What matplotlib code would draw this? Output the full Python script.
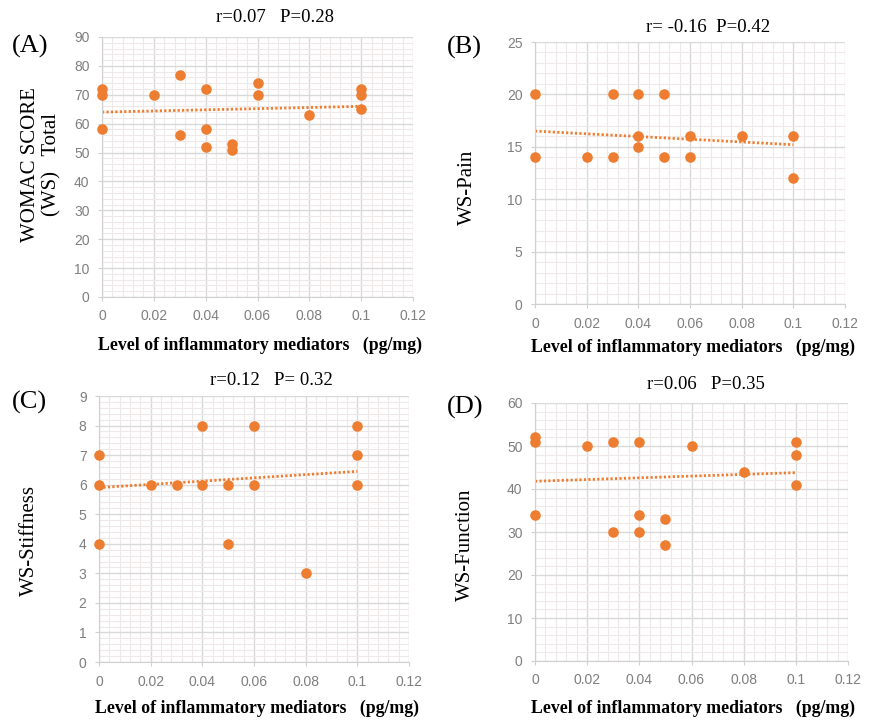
import numpy as np
import matplotlib.pyplot as plt
from matplotlib.ticker import MultipleLocator, AutoMinorLocator, FormatStrFormatter

# panel A - WOMAC total
xa = [0, 0, 0, 0.02, 0.03, 0.03, 0.04, 0.04, 0.04, 0.05, 0.05, 0.06, 0.06, 0.08, 0.1, 0.1, 0.1]
ya = [72, 70, 58, 70, 77, 56, 72, 58, 52, 53, 51, 74, 70, 63, 72, 70, 65]

# panel B - pain
xb = [0, 0, 0.02, 0.03, 0.03, 0.04, 0.04, 0.04, 0.05, 0.05, 0.06, 0.06, 0.08, 0.1, 0.1]
yb = [20, 14, 14, 20, 14, 20, 16, 15, 20, 14, 16, 14, 16, 16, 12]

# panel C - stiffness
xc = [0, 0, 0, 0.02, 0.03, 0.04, 0.04, 0.05, 0.05, 0.06, 0.06, 0.08, 0.1, 0.1, 0.1]
yc = [7, 6, 4, 6, 6, 8, 6, 6, 4, 8, 6, 3, 8, 7, 6]

# panel D - function
xd = [0, 0, 0, 0.02, 0.03, 0.03, 0.04, 0.04, 0.04, 0.05, 0.05, 0.06, 0.08, 0.1, 0.1, 0.1]
yd = [52, 51, 34, 50, 51, 30, 51, 34, 30, 33, 27, 50, 44, 51, 48, 41]

# trend lines (value at x=0 and x=0.1)
trend_x = [0, 0.1]
trend_a = [64, 66]
trend_b = [16.5, 15.2]
trend_c = [5.9, 6.45]
trend_d = [41.8, 43.8]

stats = ["r=0.07   P=0.28", "r= -0.16  P=0.42", "r=0.12   P= 0.32", "r=0.06   P=0.35"]
letters = ["(A)", "(B)", "(C)", "(D)"]
ylabels = ["WOMAC SCORE\n(WS)   Total", "WS-Pain", "WS-Stiffness", "WS-Function"]
ymax = [90, 25, 9, 60]
ystep = [10, 5, 1, 10]
xlabel = "Level of inflammatory mediators   (pg/mg)"

W, H = 869, 725
ORANGE = "#ED7D31"
SERIF = "Liberation Serif"

fig = plt.figure(figsize=(W / 100, H / 100), dpi=100)


def px_axes(l, r, t, b):
    return fig.add_axes([l / W, 1 - b / H, (r - l) / W, (b - t) / H])


# pixel boxes of each plot area (left, right, top, bottom)
boxes = [(102, 413, 37, 297), (535, 845, 42, 304), (99, 409, 396, 662), (535, 848, 403, 661)]
# text positions in pixels
stat_pos = [(275, 18), (708, 27), (271, 380), (706, 385)]
letter_pos = [(30, 46), (464, 47), (29, 402), (465, 407)]
ylab_pos = [(41, 165), (467, 187), (29, 540), (465, 545)]
xlab_pos = [(260, 345), (693, 347), (257, 708), (693, 708)]

data = [(xa, ya), (xb, yb), (xc, yc), (xd, yd)]
trends = [trend_a, trend_b, trend_c, trend_d]

for i, (x, y) in enumerate(data):
    ax = px_axes(*boxes[i])
    ax.set_xlim(0, 0.12)
    ax.set_ylim(0, ymax[i])
    ax.xaxis.set_major_locator(MultipleLocator(0.02))
    ax.yaxis.set_major_locator(MultipleLocator(ystep[i]))
    ax.xaxis.set_minor_locator(AutoMinorLocator(5))
    ax.yaxis.set_minor_locator(AutoMinorLocator(5))
    ax.xaxis.set_major_formatter(FormatStrFormatter("%g"))
    ax.grid(which="major", color="#d9d9d9", lw=1.0)
    ax.grid(which="minor", color="#efe8e8", lw=0.8)
    ax.set_axisbelow(True)
    for s in ax.spines.values():
        s.set_visible(False)
    ax.spines["left"].set_visible(True)
    ax.spines["bottom"].set_visible(True)
    ax.spines["left"].set_color("#d0d0d0")
    ax.spines["bottom"].set_color("#d0d0d0")
    ax.tick_params(which="major", length=3, color="#d0d0d0", labelcolor="#7f7f7f",
                   labelsize=10, pad=6)
    ax.tick_params(which="minor", length=0)
    for lab in ax.get_xticklabels() + ax.get_yticklabels():
        lab.set_family("Liberation Sans")

    ax.scatter(x, y, s=58, color=ORANGE, zorder=3, clip_on=False, linewidths=0)

    ax.plot(trend_x, trends[i], color=ORANGE, lw=2.0, ls=(0, (0.8, 0.8)), zorder=2)

    sx, sy = stat_pos[i]
    fig.text(sx / W, 1 - sy / H, stats[i], ha="center", va="center",
             family=SERIF, fontsize=13.5)
    lx, ly = letter_pos[i]
    fig.text(lx / W, 1 - ly / H, letters[i], ha="center", va="center",
             family=SERIF, fontsize=19)
    yx, yy = ylab_pos[i]
    fig.text(yx / W, 1 - yy / H, ylabels[i], ha="center", va="center",
             rotation=90, family=SERIF, fontsize=15, linespacing=1.15,
             multialignment="center")
    xx, xy = xlab_pos[i]
    fig.text(xx / W, 1 - xy / H, xlabel, ha="center", va="center",
             family=SERIF, fontsize=12.8, fontweight="bold")

fig.savefig("out.png", dpi=100, facecolor="white")
